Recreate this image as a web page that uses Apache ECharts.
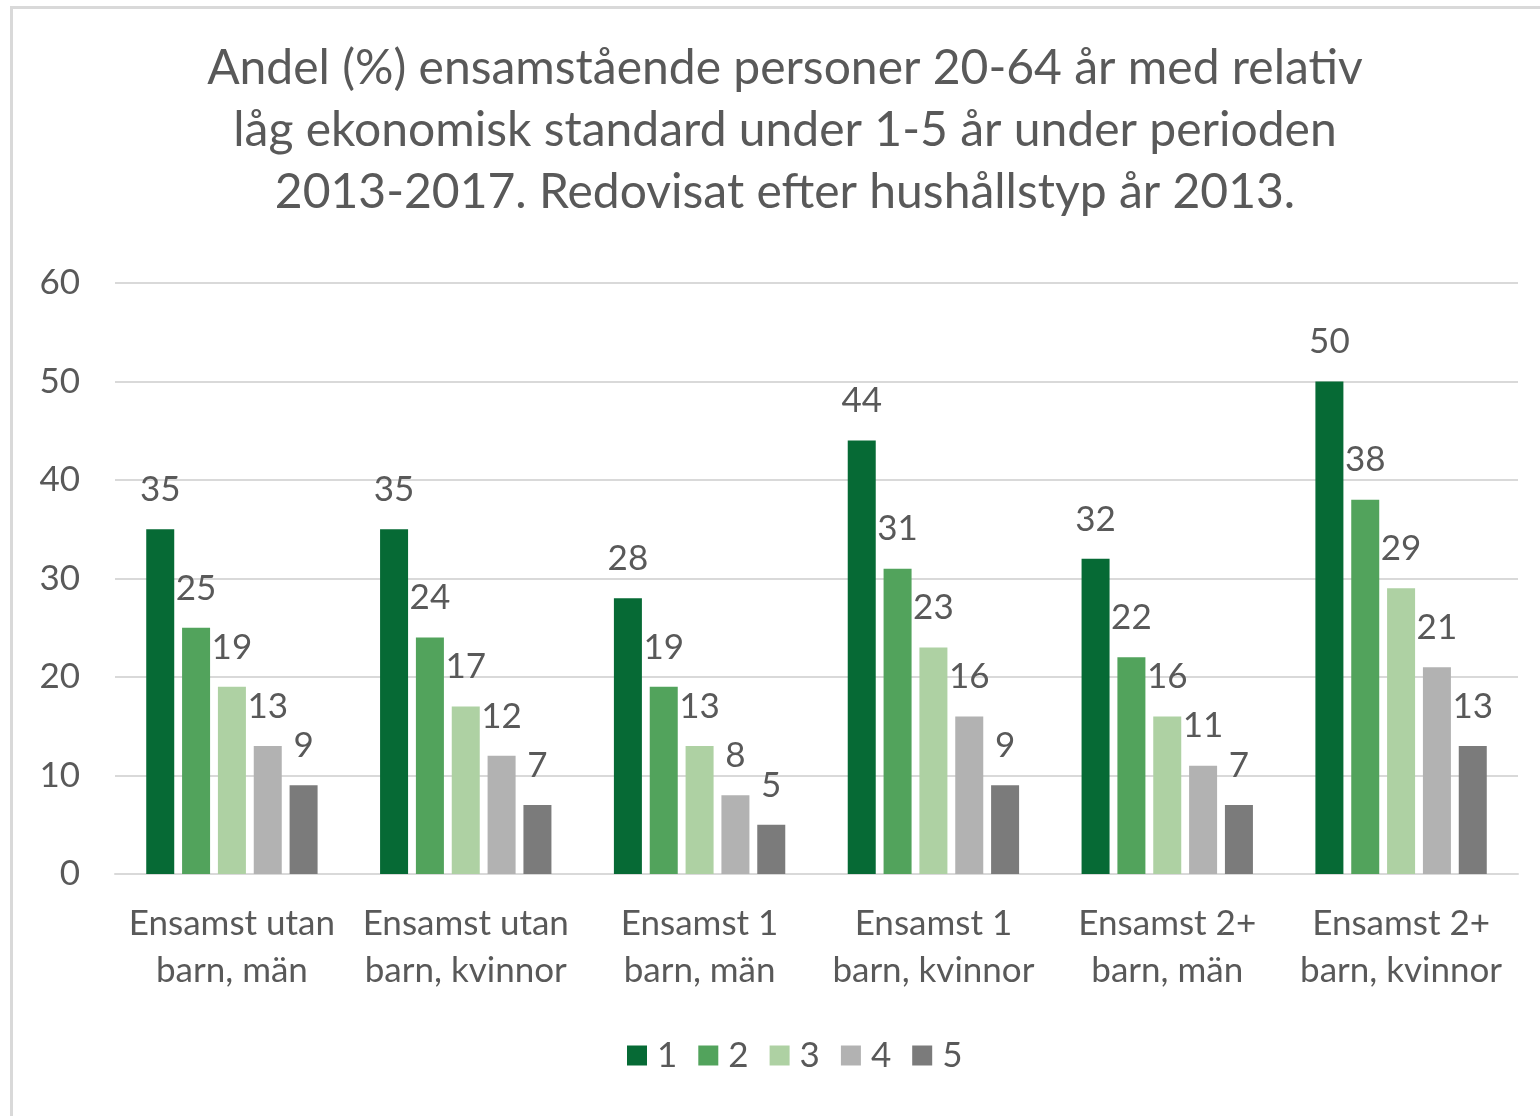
<!DOCTYPE html>
<html>
<head>
<meta charset="utf-8">
<style>
  html, body { margin: 0; padding: 0; background: #fff; }
  #chart { width: 1540px; height: 1116px; }
</style>
<script src="https://cdn.jsdelivr.net/npm/echarts@6/dist/echarts.min.js"></script>
</head>
<body>
<div id="chart"></div>
<script>
// Hushållstyp år 2013
const categories = [
  'Ensamst utan\nbarn, män',
  'Ensamst utan\nbarn, kvinnor',
  'Ensamst 1\nbarn, män',
  'Ensamst 1\nbarn, kvinnor',
  'Ensamst 2+\nbarn, män',
  'Ensamst 2+\nbarn, kvinnor'
];

// Antal år (1-5) med relativ låg ekonomisk standard
const seriesNames = ['1', '2', '3', '4', '5'];
const years1 = [35, 35, 28, 44, 32, 50];
const years2 = [25, 24, 19, 31, 22, 38];
const years3 = [19, 17, 13, 23, 16, 29];
const years4 = [13, 12, 8, 16, 11, 21];
const years5 = [9, 7, 5, 9, 7, 13];
const seriesValues = [years1, years2, years3, years4, years5];

const colors = ['#066A35', '#52A35C', '#AED1A3', '#B2B2B2', '#7B7B7B'];
const textColor = '#595959';
const fontFamily = 'Lato, "Open Sans", sans-serif';

const chart = echarts.init(document.getElementById('chart'), null, { renderer: 'canvas' });

chart.setOption({
  animation: false,
  backgroundColor: '#ffffff',
  textStyle: { fontFamily: fontFamily },
  graphic: [{
    type: 'rect',
    silent: true,
    shape: { x: 11.5, y: 7.5, width: 1600, height: 1200 },
    style: { fill: 'none', stroke: '#D9D9D9', lineWidth: 3 }
  }],
  title: {
    text: 'Andel (%) ensamstående personer 20-64 år med relativ\nlåg ekonomisk standard under 1-5 år under perioden\n2013-2017. Redovisat efter hushållstyp år 2013.',
    left: 780,
    top: 33,
    textAlign: 'center',
    textStyle: {
      color: textColor,
      fontFamily: fontFamily,
      fontSize: 48,
      fontWeight: 'normal',
      lineHeight: 62
    }
  },
  legend: {
    bottom: 38,
    left: 622,
    itemWidth: 20,
    itemHeight: 20,
    itemGap: 21,
    icon: 'rect',
    textStyle: { color: textColor, fontSize: 35, fontFamily: fontFamily, padding: [0, 0, 0, 5] },
    data: seriesNames
  },
  grid: {
    left: 115,
    right: 22,
    top: 283,
    bottom: 242,
    containLabel: false
  },
  xAxis: {
    type: 'category',
    data: categories,
    axisTick: { show: false },
    axisLine: { show: true, lineStyle: { color: '#D9D9D9', width: 2 } },
    axisLabel: {
      color: textColor,
      fontSize: 35,
      fontFamily: fontFamily,
      lineHeight: 47,
      margin: 26,
      interval: 0
    }
  },
  yAxis: {
    type: 'value',
    min: 0,
    max: 60,
    interval: 10,
    axisLine: { show: false },
    axisTick: { show: false },
    splitLine: { lineStyle: { color: '#D9D9D9', width: 2 } },
    axisLabel: {
      color: textColor,
      fontSize: 35,
      fontFamily: fontFamily,
      margin: 35
    }
  },
  series: seriesValues.map((vals, i) => ({
    name: seriesNames[i],
    type: 'bar',
    data: vals,
    barWidth: 28,
    barGap: '28%',
    itemStyle: { color: colors[i] },
    label: {
      show: true,
      position: 'top',
      distance: 22,
      color: textColor,
      fontSize: 35,
      fontFamily: fontFamily
    }
  }))
});
</script>
</body>
</html>
